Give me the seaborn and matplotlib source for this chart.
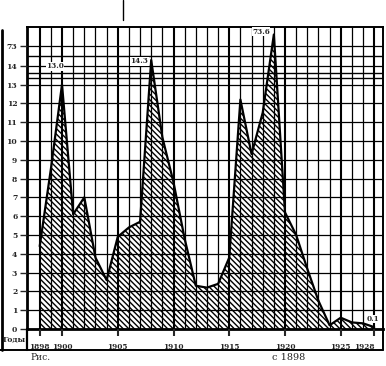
import numpy as np
import pandas as pd
import matplotlib
matplotlib.use('Agg')
import matplotlib.pyplot as plt
import seaborn as sns
from matplotlib.lines import Line2D
from matplotlib.ticker import NullLocator

# ---- data ----
years = list(range(1898, 1929))
values = [4.4, 8.5, 13.0, 6.1, 7.0, 3.8, 2.6, 4.9, 5.4, 5.7,
          14.3, 10.2, 7.8, 4.8, 2.3, 2.2, 2.4, 3.8, 12.2, 9.3,
          11.5, 73.6, 6.2, 5.0, 3.2, 1.5, 0.2, 0.6, 0.35, 0.3, 0.1]
year_ticks = [1898, 1900, 1905, 1910, 1915, 1920, 1925, 1928]
y_ticks = list(range(0, 15)) + [73]
peak_years = [1900, 1908, 1919, 1928]
peak_texts = ['13.0', '14.3', '73.6', '0.1']
row_label = 'Годы'
caption_left = 'Рис.'
caption_right = 'с 1898'

sns.set_style('white')
plt.rcParams['font.family'] = ['DejaVu Serif']
plt.rcParams['hatch.linewidth'] = 1.0

# broken axis: 14.5 .. 72.5 squeezed
LOW, HIGH, EPS = 14.5, 72.5, 0.001
GAP = (HIGH - LOW) * EPS


def fwd(v):
    v = np.asarray(v, dtype=float)
    return np.where(v <= LOW, v,
                    np.where(v >= HIGH, LOW + GAP + (v - HIGH), LOW + (v - LOW) * EPS))


def inv(d):
    d = np.asarray(d, dtype=float)
    return np.where(d <= LOW, d,
                    np.where(d >= LOW + GAP, HIGH + (d - LOW - GAP), LOW + (d - LOW) / EPS))


W, H = 386, 366
fig = plt.figure(figsize=(W / 100, H / 100), dpi=100)
ax = fig.add_axes([27 / W, 37 / H, 356 / W, 302 / H])
ax.set_yscale('function', functions=(fwd, inv))

df = pd.DataFrame({'year': years, 'value': values})
ax.fill_between(df['year'], 0, df['value'], facecolor='none', edgecolor='black',
                hatch='\\\\\\\\\\\\', lw=0, zorder=1)
sns.lineplot(data=df, x='year', y='value', ax=ax, color='black', lw=1.6, zorder=4)

ax.set_xlim(1896.86, 1928.79)
ax.set_ylim(0, 74)
ax.set_xlabel('')
ax.set_ylabel('')

ax.set_xticks(year_ticks)
ax.set_xticks(years, minor=True)
ax.set_xticklabels([str(y) for y in year_ticks], fontsize=5.3, fontweight='bold')
ax.get_xticklabels()[-1].set_horizontalalignment('right')
ax.set_yticks(y_ticks)
ax.set_yticklabels([str(t) for t in y_ticks], fontsize=5.5, fontweight='bold')
ax.yaxis.set_minor_locator(NullLocator())

ax.set_axisbelow(False)
ax.grid(True, which='major', axis='y', color='black', lw=0.9)
ax.grid(True, which='minor', axis='x', color='black', lw=0.9)
ax.grid(True, which='major', axis='x', color='black', lw=1.5)
for yb in (13.33, 13.62, 14.5):
    ax.axhline(yb, color='black', lw=1.0, zorder=2.5)

ax.tick_params(axis='y', which='major', direction='out', length=5, width=1.0, pad=2, left=True)
ax.tick_params(axis='x', which='major', direction='out', length=5, width=1.5, pad=5, bottom=True)
ax.tick_params(axis='x', which='minor', length=0)

for s in ax.spines.values():
    s.set_color('black')
    s.set_linewidth(1.4)
ax.spines['left'].set_linewidth(2.0)
ax.spines['bottom'].set_linewidth(2.0)

# peak annotations
offsets = {1900: (-5, 13, 'center'), 1908: (-2, -1, 'right'), 1919: (-3, 2, 'right'), 1928: (-1, 3, 'center')}
for yr, txt in zip(peak_years, peak_texts):
    val = values[years.index(yr)]
    dx, dy, ha = offsets[yr]
    ax.annotate(txt, xy=(yr, val), xytext=(dx, dy), textcoords='offset points',
                ha=ha, va='center' if yr != 1928 else 'bottom', fontsize=5.2,
                fontweight='bold', zorder=6,
                bbox=dict(boxstyle='square,pad=0.05', fc='white', ec='none'))


def fx(px):
    return px / W


def fy(py):
    return 1 - py / H


# frame / table lines outside the axes
for (x0, y0, x1, y1, lw) in [(1.5, 30, 1.5, 350, 2.0),
                             (0, 350, 383, 350, 1.4),
                             (27, 329, 27, 350, 1.6),
                             (383, 329, 383, 350, 1.4),
                             (123, 0, 123, 20, 1.0)]:
    fig.add_artist(Line2D([fx(x0), fx(x1)], [fy(y0), fy(y1)], color='black', lw=lw,
                          transform=fig.transFigure))

fig.text(fx(14), fy(340), row_label, ha='center', va='center', fontsize=5.5, fontweight='bold')
fig.text(fx(41), fy(358), caption_left, ha='center', va='center', fontsize=6.5)
fig.text(fx(289), fy(358), caption_right, ha='center', va='center', fontsize=7)

fig.savefig('out.png', dpi=100)
